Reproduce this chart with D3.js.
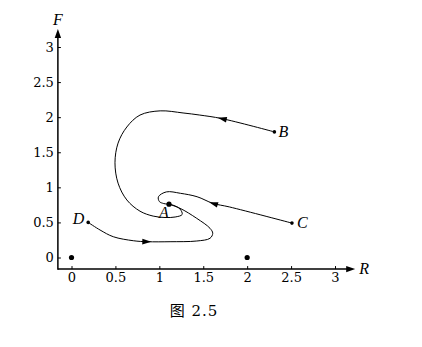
<!DOCTYPE html>
<html lang="zh">
<head>
    <meta charset="UTF-8">
    <title>图 2.5</title>
    <script src="https://d3js.org/d3.v7.min.js"></script>
    <style>
        body { margin: 0; background: #fff; }
        text { font-family: "Liberation Serif", "DejaVu Serif", serif; }
    </style>
</head>
<body>
    <svg id="chart" width="422" height="347"></svg>

    <script>
        // tick values on both axes
        const xTicks = [0, 0.5, 1, 1.5, 2, 2.5, 3];
        const yTicks = [0, 0.5, 1, 1.5, 2, 2.5, 3];

        // fixed points (R, F)
        const fixedPoints = [[0, 0], [2, 0]];

        // trajectories, start point first
        const curveB = [[2.31, 1.79], [1.71, 1.98], [1.46, 2.03], [1.27, 2.06], [1.01, 2.09], [0.78, 2.03],
                        [0.63, 1.86], [0.53, 1.63], [0.495, 1.35], [0.53, 1.06], [0.63, 0.82], [0.78, 0.66],
                        [0.93, 0.59], [1.065, 0.57], [1.18, 0.577], [1.26, 0.613], [1.236, 0.69], [1.167, 0.741],
                        [1.11, 0.76]];
        const curveC = [[2.51, 0.49], [1.8, 0.72], [1.61, 0.772], [1.43, 0.866], [1.24, 0.915], [1.08, 0.935],
                        [0.99, 0.866], [1.0, 0.798], [1.05, 0.769], [1.11, 0.76]];
        const curveD = [[0.19, 0.5], [0.325, 0.392], [0.476, 0.296], [0.704, 0.239], [0.863, 0.225], [1.122, 0.225],
                        [1.426, 0.235], [1.577, 0.274], [1.608, 0.345], [1.577, 0.416], [1.426, 0.558], [1.236, 0.701],
                        [1.11, 0.76]];
        const curves = [curveB, curveC, curveD];
        // index of the point where each arrowhead sits
        const arrowAt = [1, 2, 4];

        const labels = ["B", "C", "D"];
        const pointA = [1.11, 0.76];

        const svg = d3.select("#chart");

        const x = d3.scaleLinear().domain([0, 3]).range([71.5, 335]);
        const y = d3.scaleLinear().domain([0, 3]).range([257.5, 47]);

        const xMin = -0.155, xMax = 3.23;
        const yMin = -0.165, yMax = 3.255;

        // x axis
        const xAxis = svg.append("g")
            .attr("transform", "translate(0," + y(yMin) + ")")
            .call(d3.axisBottom(x).tickValues(xTicks).tickFormat(d3.format("")).tickSizeInner(-3).tickSizeOuter(0).tickPadding(4));
        xAxis.select(".domain").remove();
        xAxis.selectAll("text").style("font-size", "13px").style("font-family", "'DejaVu Serif', serif").attr("fill", "#000");
        xAxis.selectAll("line").attr("stroke", "#000");

        // y axis
        const yAxis = svg.append("g")
            .attr("transform", "translate(" + x(xMin) + ",0)")
            .call(d3.axisLeft(y).tickValues(yTicks).tickFormat(d3.format("")).tickSizeInner(-3).tickSizeOuter(0).tickPadding(4));
        yAxis.select(".domain").remove();
        yAxis.selectAll("text").style("font-size", "13px").style("font-family", "'DejaVu Serif', serif").attr("fill", "#000");
        yAxis.selectAll("line").attr("stroke", "#000");

        svg.append("line")
            .attr("x1", x(xMin)).attr("x2", x(xMax) - 6)
            .attr("y1", y(yMin)).attr("y2", y(yMin))
            .attr("stroke", "#000").attr("stroke-width", 1.5);
        svg.append("line")
            .attr("x1", x(xMin)).attr("x2", x(xMin))
            .attr("y1", y(yMin) + 0.75).attr("y2", y(yMax) + 6)
            .attr("stroke", "#000").attr("stroke-width", 1.5);

        // axis arrowheads
        svg.append("path")
            .attr("d", d3.line()([[x(xMax), y(yMin)], [x(xMax) - 9, y(yMin) - 3.2], [x(xMax) - 9, y(yMin) + 3.2]]) + "Z")
            .attr("fill", "#000");
        svg.append("path")
            .attr("d", d3.line()([[x(xMin), y(yMax)], [x(xMin) - 3.2, y(yMax) + 9], [x(xMin) + 3.2, y(yMax) + 9]]) + "Z")
            .attr("fill", "#000");

        svg.append("text")
            .attr("x", x(xMax) + 4).attr("y", y(yMin) + 5)
            .style("font-size", "16px").style("font-style", "italic")
            .text("R");
        svg.append("text")
            .attr("x", x(xMin)).attr("y", y(yMax) - 4)
            .attr("text-anchor", "middle")
            .style("font-size", "16px").style("font-style", "italic")
            .text("F");

        // trajectories
        const line = d3.line()
            .x(d => x(d[0]))
            .y(d => y(d[1]))
            .curve(d3.curveCatmullRom.alpha(0.5));

        svg.selectAll(".traj")
            .data(curves)
            .enter().append("path")
            .attr("class", "traj")
            .attr("d", line)
            .attr("fill", "none")
            .attr("stroke", "#000")
            .attr("stroke-width", 1);

        // arrowheads on trajectories
        curves.forEach(function(c, i) {
            const p = c[arrowAt[i]], q = c[arrowAt[i] + 1], b = c[arrowAt[i] - 1];
            const ang = Math.atan2(y(q[1]) - y(b[1]), x(q[0]) - x(b[0])) * 180 / Math.PI;
            svg.append("path")
                .attr("d", "M4,0L-5,-2.8L-5,2.8Z")
                .attr("transform", "translate(" + x(p[0]) + "," + y(p[1]) + ") rotate(" + ang + ")")
                .attr("fill", "#000");
        });

        // start points
        svg.selectAll(".start")
            .data(curves)
            .enter().append("circle")
            .attr("class", "start")
            .attr("cx", d => x(d[0][0]))
            .attr("cy", d => y(d[0][1]))
            .attr("r", 1.8)
            .attr("fill", "#000");

        svg.append("circle")
            .attr("cx", x(pointA[0])).attr("cy", y(pointA[1]))
            .attr("r", 2.6).attr("fill", "#000");

        svg.selectAll(".fixed")
            .data(fixedPoints)
            .enter().append("circle")
            .attr("class", "fixed")
            .attr("cx", d => x(d[0]))
            .attr("cy", d => y(d[1]))
            .attr("r", 2.6)
            .attr("fill", "#000");

        // point labels
        const labelOffset = { B: [4, 5, "start"], C: [5, 5, "start"], D: [-4, 2, "end"] };
        svg.selectAll(".plabel")
            .data(curves)
            .enter().append("text")
            .attr("class", "plabel")
            .attr("x", (d, i) => x(d[0][0]) + labelOffset[labels[i]][0])
            .attr("y", (d, i) => y(d[0][1]) + labelOffset[labels[i]][1])
            .attr("text-anchor", (d, i) => labelOffset[labels[i]][2])
            .style("font-size", "16px").style("font-style", "italic")
            .text((d, i) => labels[i]);

        svg.append("text")
            .attr("x", x(pointA[0]) - 5).attr("y", y(pointA[1]) + 14)
            .attr("text-anchor", "middle")
            .style("font-size", "16px").style("font-style", "italic")
            .text("A");

        // caption
        svg.append("text")
            .attr("x", 194).attr("y", 316)
            .attr("text-anchor", "middle")
            .style("font-size", "15px")
            .style("letter-spacing", "1px")
            .style("font-family", "'DejaVu Serif', 'Noto Sans CJK SC', serif")
            .text("图 2.5");
    </script>
</body>
</html>
